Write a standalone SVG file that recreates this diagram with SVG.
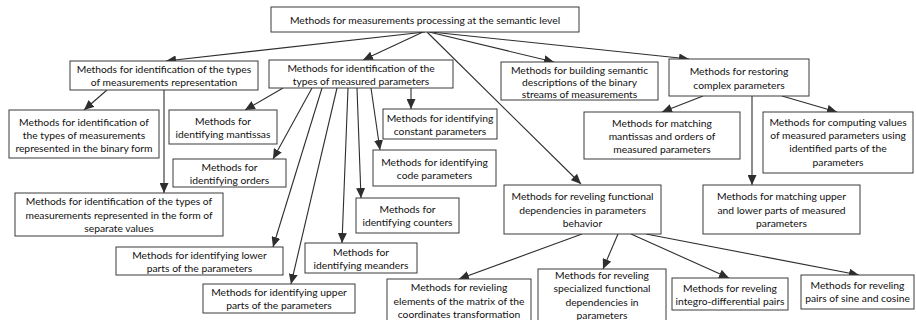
<svg xmlns="http://www.w3.org/2000/svg" width="916" height="320" viewBox="0 0 916 320">
  <style>
    .box rect { fill: #ffffff; stroke: #3a3a3a; stroke-width: 1; }
    .box text { font-family: Lato, "Open Sans", sans-serif; font-size: 10.3px; fill: #111111; text-anchor: middle; }
    .edge { fill: none; stroke: #2e2e2e; stroke-width: 1.1; marker-end: url(#arrow); }
  </style>
  <defs>
    <marker id="arrow" markerUnits="userSpaceOnUse" markerWidth="11" markerHeight="9" refX="10" refY="4.5" orient="auto">
      <path d="M0,0 L10,4.5 L0,9 Z" fill="#2e2e2e"/>
    </marker>
  </defs>

  <!-- connectors -->
  <g id="connectors">
    <line class="edge" x1="425" y1="32" x2="166" y2="61"/>
    <line class="edge" x1="423" y1="32" x2="363" y2="60"/>
    <line class="edge" x1="427" y1="32" x2="581" y2="184"/>
    <line class="edge" x1="429" y1="32" x2="554" y2="62"/>
    <line class="edge" x1="431" y1="32" x2="689" y2="59"/>
    <line class="edge" x1="107" y1="90" x2="84" y2="110"/>
    <line class="edge" x1="164" y1="90" x2="164" y2="193"/>
    <line class="edge" x1="283" y1="88" x2="245" y2="110"/>
    <line class="edge" x1="312" y1="88" x2="273" y2="159"/>
    <line class="edge" x1="322" y1="88" x2="273" y2="247"/>
    <line class="edge" x1="337" y1="88" x2="291" y2="284"/>
    <line class="edge" x1="348" y1="88" x2="342" y2="243"/>
    <line class="edge" x1="357" y1="88" x2="361" y2="198"/>
    <line class="edge" x1="371" y1="88" x2="380" y2="150"/>
    <line class="edge" x1="411" y1="88" x2="411" y2="109"/>
    <line class="edge" x1="703" y1="96" x2="662" y2="112"/>
    <line class="edge" x1="752" y1="96" x2="752" y2="185"/>
    <line class="edge" x1="782" y1="96" x2="837" y2="112"/>
    <line class="edge" x1="582" y1="234" x2="459" y2="279"/>
    <line class="edge" x1="618" y1="234" x2="603" y2="269"/>
    <line class="edge" x1="631" y1="234" x2="729" y2="278"/>
    <line class="edge" x1="646" y1="234" x2="859" y2="275"/>
  </g>

  <!-- nodes -->
  <g id="n-root" class="box">
    <rect x="271" y="7" width="308" height="25"/>
    <text x="425" y="23.5">Methods for measurements processing at the semantic level</text>
  </g>
  <g id="n-repr-types" class="box">
    <rect x="70" y="61" width="188" height="29"/>
    <text x="164" y="73">Methods for identification of the types</text>
    <text x="164" y="86">of measurements representation</text>
  </g>
  <g id="n-param-types" class="box">
    <rect x="269" y="60" width="184" height="28"/>
    <text x="361" y="71.5">Methods for identification of the</text>
    <text x="361" y="84.5">types of measured parameters</text>
  </g>
  <g id="n-semantic" class="box">
    <rect x="501" y="62" width="157" height="38"/>
    <text x="579.5" y="73.5">Methods for building semantic</text>
    <text x="579.5" y="86">descriptions of the binary</text>
    <text x="579.5" y="98">streams of measurements</text>
  </g>
  <g id="n-restoring" class="box">
    <rect x="669" y="59" width="140" height="37"/>
    <text x="739" y="75">Methods for restoring</text>
    <text x="739" y="89">complex parameters</text>
  </g>
  <g id="n-binary" class="box">
    <rect x="9" y="110" width="150" height="48"/>
    <text x="84" y="125.5">Methods for identification of</text>
    <text x="84" y="138.5">the types of measurements</text>
    <text x="84" y="151.5">represented in the binary form</text>
  </g>
  <g id="n-mantissas" class="box">
    <rect x="169" y="110" width="108" height="34"/>
    <text x="223" y="125">Methods for</text>
    <text x="223" y="138">identifying mantissas</text>
  </g>
  <g id="n-orders" class="box">
    <rect x="173" y="159" width="113" height="28"/>
    <text x="229.5" y="170.5">Methods for</text>
    <text x="229.5" y="183.5">identifying orders</text>
  </g>
  <g id="n-constant" class="box">
    <rect x="383" y="109" width="114" height="30"/>
    <text x="440" y="121.5">Methods for identifying</text>
    <text x="440" y="134.5">constant parameters</text>
  </g>
  <g id="n-code" class="box">
    <rect x="373" y="150" width="123" height="36"/>
    <text x="434.5" y="165.5">Methods for identifying</text>
    <text x="434.5" y="178.5">code parameters</text>
  </g>
  <g id="n-separate" class="box">
    <rect x="15" y="193" width="208" height="43"/>
    <text x="119" y="205">Methods for identification of the types of</text>
    <text x="119" y="218.5">measurements represented in the form of</text>
    <text x="119" y="232">separate values</text>
  </g>
  <g id="n-counters" class="box">
    <rect x="356" y="198" width="103" height="35"/>
    <text x="407.5" y="213">Methods for</text>
    <text x="407.5" y="226">identifying counters</text>
  </g>
  <g id="n-lower" class="box">
    <rect x="116" y="247" width="167" height="28"/>
    <text x="199.5" y="258.5">Methods for identifying lower</text>
    <text x="199.5" y="271.5">parts of the parameters</text>
  </g>
  <g id="n-meanders" class="box">
    <rect x="305" y="243" width="112" height="30"/>
    <text x="361" y="255.5">Methods for</text>
    <text x="361" y="268.5">identifying meanders</text>
  </g>
  <g id="n-upper" class="box">
    <rect x="203" y="284" width="152" height="29"/>
    <text x="279" y="296">Methods for identifying upper</text>
    <text x="279" y="309">parts of the parameters</text>
  </g>
  <g id="n-match-mo" class="box">
    <rect x="584" y="112" width="156" height="47"/>
    <text x="662" y="127">Methods for matching</text>
    <text x="662" y="140">mantissas and orders of</text>
    <text x="662" y="153">measured parameters</text>
  </g>
  <g id="n-computing" class="box">
    <rect x="763" y="112" width="150" height="61"/>
    <text x="838" y="126">Methods for computing values</text>
    <text x="838" y="139">of measured parameters using</text>
    <text x="838" y="152">identified parts of the</text>
    <text x="838" y="165.5">parameters</text>
  </g>
  <g id="n-functional" class="box">
    <rect x="504" y="185" width="157" height="49"/>
    <text x="582.5" y="200">Methods for reveling functional</text>
    <text x="582.5" y="213.5">dependencies in parameters</text>
    <text x="582.5" y="227">behavior</text>
  </g>
  <g id="n-match-ul" class="box">
    <rect x="703" y="185" width="157" height="49"/>
    <text x="781.5" y="200">Methods for matching upper</text>
    <text x="781.5" y="213.5">and lower parts of measured</text>
    <text x="781.5" y="227">parameters</text>
  </g>
  <g id="n-matrix" class="box">
    <rect x="387" y="279" width="144" height="46"/>
    <text x="459" y="291">Methods for revieling</text>
    <text x="459" y="304.5">elements of the matrix of the</text>
    <text x="459" y="318">coordinates transformation</text>
  </g>
  <g id="n-specialized" class="box">
    <rect x="538" y="269" width="128" height="56"/>
    <text x="602" y="279">Methods for reveling</text>
    <text x="602" y="292">specialized functional</text>
    <text x="602" y="305.5">dependencies in</text>
    <text x="602" y="318.5">parameters</text>
  </g>
  <g id="n-integro" class="box">
    <rect x="672" y="278" width="116" height="32"/>
    <text x="730" y="291.5">Methods for reveling</text>
    <text x="730" y="304.5">integro-differential pairs</text>
  </g>
  <g id="n-sincos" class="box">
    <rect x="801" y="275" width="113" height="34"/>
    <text x="857.5" y="289">Methods for reveling</text>
    <text x="857.5" y="302">pairs of sine and cosine</text>
  </g>
</svg>
